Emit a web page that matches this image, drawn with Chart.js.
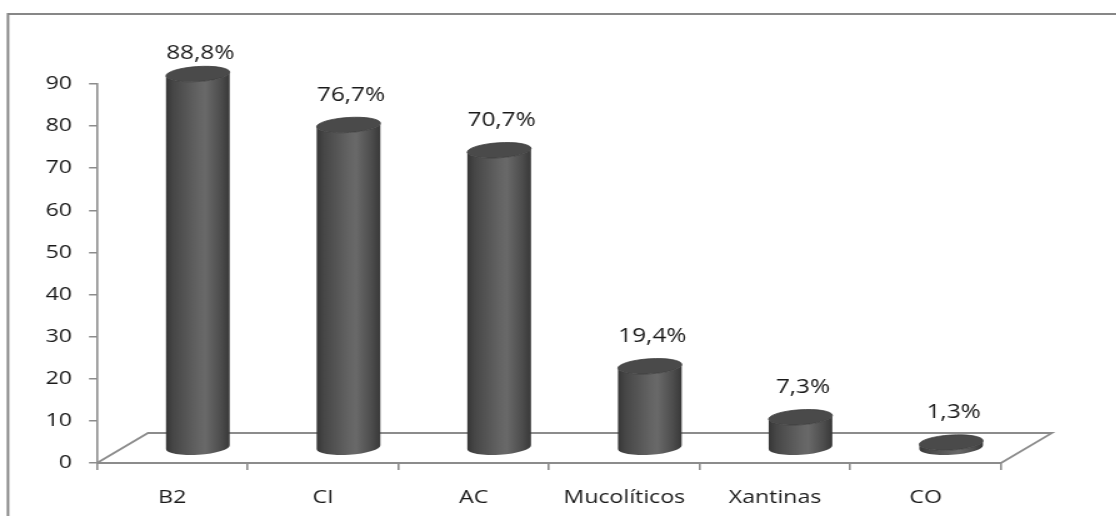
<!DOCTYPE html>
<html>
<head>
<meta charset="utf-8">
<script src="https://cdn.jsdelivr.net/npm/chart.js@4.4.1/dist/chart.umd.min.js"></script>
<style>
  html, body { margin: 0; padding: 0; background: #ffffff; overflow: hidden; }
  /* the chart is laid out narrow and widened horizontally, giving the stretched look */
  #wrap { position: absolute; left: 0; top: 0; width: 893px; height: 516px;
          transform: scaleX(1.25); transform-origin: 0 0; }
</style>
</head>
<body>
<div id="wrap"><canvas id="c"></canvas></div>
<script>
// ---- data ----
const categories = ['B2', 'CI', 'AC', 'Mucolíticos', 'Xantinas', 'CO'];
const percentages = [88.8, 76.7, 70.7, 19.4, 7.3, 1.3];
const yTickValues = [0, 10, 20, 30, 40, 50, 60, 70, 80, 90];

// ---- styling ----
const FONT = '"Open Sans", "DejaVu Sans", sans-serif';
const AXIS_GREY = '#8c8c8c';
const TEXT_COLOR = '#1a1a1a';
const DEPTH_X = 40.8;   // floor depth, horizontal
const DEPTH_Y = -30;    // floor depth, vertical
const CAP_RY = 7.5;     // half-height of the cylinder end ellipses
const TILT = -0.08;     // slight tilt of the end ellipses

function formatPct(v) {
  return v.toFixed(1).replace('.', ',') + '%';
}

// outer frame (only top and left edges fall inside the canvas)
const framePlugin = {
  id: 'frame',
  beforeDraw(chart) {
    const ctx = chart.ctx;
    ctx.save();
    ctx.strokeStyle = '#878787';
    ctx.lineWidth = 2;
    ctx.beginPath();
    ctx.moveTo(6.4, chart.height + 2);
    ctx.lineTo(6.4, 14);
    ctx.lineTo(chart.width + 2, 14);
    ctx.stroke();
    ctx.restore();
  }
};

// 3-D floor outline
const floorPlugin = {
  id: 'floor',
  beforeDatasetsDraw(chart) {
    const { ctx, chartArea } = chart;
    const y0 = chart.scales.y.getPixelForValue(0);
    ctx.save();
    ctx.strokeStyle = AXIS_GREY;
    ctx.lineWidth = 1.8;
    ctx.beginPath();
    ctx.moveTo(chartArea.left, y0);
    ctx.lineTo(chartArea.left + DEPTH_X, y0 + DEPTH_Y);
    ctx.lineTo(chartArea.right + DEPTH_X, y0 + DEPTH_Y);
    ctx.lineTo(chartArea.right, y0);
    ctx.stroke();
    ctx.restore();
  }
};

// cylinders + value labels, placed from the bar elements
const cylinderPlugin = {
  id: 'cylinders',
  afterDatasetsDraw(chart) {
    const { ctx, chartArea } = chart;
    const meta = chart.getDatasetMeta(0);
    const ds = chart.data.datasets[0];
    const cosT = Math.cos(TILT), sinT = Math.sin(TILT);
    meta.data.forEach((bar, i) => {
      const p = bar.getProps(['x', 'y', 'width', 'base'], true);
      const cx = p.x + DEPTH_X / 2;
      const by = p.base + DEPTH_Y / 2;
      const ty = p.y + DEPTH_Y / 2;
      const rx = p.width / 2;
      const ex = rx * cosT, ey = rx * sinT;

      ctx.save();
      // body
      const grad = ctx.createLinearGradient(cx - rx, 0, cx + rx, 0);
      grad.addColorStop(0, '#363636');
      grad.addColorStop(0.12, '#474747');
      grad.addColorStop(0.5, '#636363');
      grad.addColorStop(0.62, '#696969');
      grad.addColorStop(0.86, '#4d4d4d');
      grad.addColorStop(1, '#383838');
      ctx.beginPath();
      ctx.moveTo(cx - ex, ty - ey);
      ctx.lineTo(cx - ex, by - ey);
      ctx.ellipse(cx, by, rx, CAP_RY, TILT, Math.PI, 0, true);
      ctx.lineTo(cx + ex, ty + ey);
      ctx.ellipse(cx, ty, rx, CAP_RY, TILT, 0, Math.PI, false);
      ctx.closePath();
      ctx.fillStyle = grad;
      ctx.fill();

      // top cap
      ctx.beginPath();
      ctx.ellipse(cx, ty, rx, CAP_RY, TILT, 0, Math.PI * 2);
      ctx.fillStyle = '#4a4a4a';
      ctx.fill();
      ctx.lineWidth = 0.8;
      ctx.strokeStyle = '#3e3e3e';
      ctx.stroke();

      // value label
      const ly = Math.max(p.y - 45, chartArea.top - 31);
      ctx.fillStyle = TEXT_COLOR;
      ctx.font = '19.5px ' + FONT;
      ctx.textAlign = 'center';
      ctx.textBaseline = 'middle';
      ctx.fillText(formatPct(ds.data[i]), cx + 2, ly);
      ctx.restore();
    });
  }
};

new Chart(document.getElementById('c'), {
  type: 'bar',
  data: {
    labels: categories,
    datasets: [{
      data: percentages,
      backgroundColor: 'rgba(0,0,0,0)',
      borderWidth: 0,
      barPercentage: 1,
      categoryPercentage: 0.424
    }]
  },
  options: {
    responsive: true,
    maintainAspectRatio: false,
    animation: false,
    events: [],
    layout: { padding: { top: 84, left: 0, right: 92.2, bottom: 0 } },
    plugins: { legend: { display: false }, tooltip: { enabled: false } },
    scales: {
      x: {
        afterFit(scale) { scale.height = 53; },
        grid: { display: true, drawOnChartArea: false, drawTicks: true, tickLength: 7,
                color: AXIS_GREY, lineWidth: 1.6 },
        border: { display: true, color: AXIS_GREY, width: 2 },
        ticks: { color: TEXT_COLOR, padding: 17, font: { family: FONT, size: 18.5 } }
      },
      y: {
        min: 0,
        max: 90,
        afterFit(scale) { scale.width = 77.6; },
        afterBuildTicks(scale) { scale.ticks = yTickValues.map(v => ({ value: v })); },
        grid: { display: true, drawOnChartArea: false, drawTicks: true, tickLength: 6.4,
                color: AXIS_GREY, lineWidth: 1.5 },
        border: { display: true, color: AXIS_GREY, width: 1.6 },
        ticks: { color: TEXT_COLOR, padding: 13.6, font: { family: FONT, size: 18.5 } }
      }
    }
  },
  plugins: [framePlugin, floorPlugin, cylinderPlugin]
});
</script>
</body>
</html>
